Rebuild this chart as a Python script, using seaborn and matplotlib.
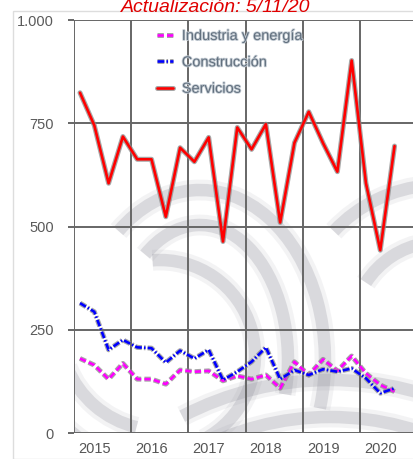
import numpy as np
import pandas as pd
import matplotlib
matplotlib.use("Agg")
import matplotlib.pyplot as plt
import matplotlib.patheffects as pe
from matplotlib.patches import Arc, Rectangle
import seaborn as sns

# Datos trimestrales 2015T1 - 2020T3
trimestre = list(range(23))
industria = [181, 165, 131, 169, 131, 131, 119, 153, 149, 151, 127, 139,
             131, 141, 109, 173, 141, 179, 151, 187, 145, 117, 101]
construccion = [315, 294, 202, 226, 208, 206, 171, 200, 181, 202, 129, 149,
                173, 208, 131, 153, 141, 155, 149, 157, 133, 97, 109]
servicios = [824, 745, 605, 718, 663, 663, 524, 691, 657, 716, 464, 740,
             687, 748, 510, 703, 778, 702, 633, 902, 605, 443, 695]
anios = ["2015", "2016", "2017", "2018", "2019", "2020"]
series = ["Industria y energía", "Construcción", "Servicios"]

df = pd.DataFrame({"t": trimestre * 3,
                   "valor": industria + construccion + servicios,
                   "serie": [series[0]] * 23 + [series[1]] * 23 + [series[2]] * 23})

sns.set_style("white")
plt.rcParams["font.family"] = ["Liberation Sans", "DejaVu Sans"]

W, H = 414, 459
fig = plt.figure(figsize=(W / 100, H / 100), dpi=100)
ax = fig.add_axes([74 / W, 1 - 433.3 / H, 1 - 74 / W, 413.3 / H])

# marco exterior
fig.add_artist(Rectangle((13 / W, 0), 1, 1 - 11 / H, transform=fig.transFigure,
                         fill=False, edgecolor="#dddddd", lw=1))

# marca de agua: arcos grises (centro px, semiejes px, angulos)
arcos = [((200, 360), 125, 170, -20, 125), ((200, 360), 88, 135, -20, 120),
         ((160, 355), 95, 95, -60, 95),
         ((160, 330), 100, 100, 200, 255), ((160, 330), 135, 135, 205, 250),
         ((440, 330), 145, 145, 95, 140), ((440, 330), 88, 88, 100, 150),
         ((330, 700), 320, 320, 60, 120), ((330, 700), 283, 283, 58, 122)]
for (cx, cy), rx, ry, t1, t2 in arcos:
    for lw, al in [(15, 0.10), (9, 0.25)]:
        a = Arc((cx / W, 1 - cy / H), 2 * rx / W, 2 * ry / H, theta1=t1, theta2=t2,
                transform=fig.transFigure, color="#8e8e9a", lw=lw, alpha=al, zorder=0.2)
        ax.add_artist(a)
        a.set_clip_path(ax.patch)

colores = {series[0]: "#ff00ff", series[1]: "#0000ff", series[2]: "#ff0000"}
estilos = {series[0]: (0, (2.4, 1.2)), series[1]: (0, (2.6, 0.8, 0.6, 0.8)), series[2]: "-"}
sombra = [pe.Stroke(linewidth=3.6, foreground="#8a8a8a", alpha=0.75), pe.Normal()]

for s in series:
    sub = df[df["serie"] == s]
    sns.lineplot(data=sub, x="t", y="valor", ax=ax, color=colores[s], lw=1.9,
                 linestyle=estilos[s], label=s, path_effects=sombra, zorder=3)

ax.set_xlim(-0.42, 23.36)
ax.set_ylim(0, 1000)
ax.set_xticks([-0.42 + 4 * k for k in range(6)])
ax.set_xticklabels([])
ax.set_xticks([1 + 4 * k for k in range(6)], minor=True)
ax.set_xticklabels(anios, minor=True)
ax.tick_params(axis="x", which="major", length=0)
ax.tick_params(axis="x", which="minor", length=0, labelsize=10.5, labelcolor="#555555", pad=6)
ax.set_yticks([0, 250, 500, 750, 1000])
ax.set_yticklabels(["0", "250", "500", "750", "1.000"])
ax.tick_params(axis="y", length=4.5, width=1.4, color="#666666", labelsize=10.5,
               labelcolor="#5a5a5a", pad=10, left=True)
ax.grid(True, color="#666666", lw=1.4)
ax.set_axisbelow(True)
for sp in ax.spines.values():
    sp.set_visible(False)
ax.set_xlabel("")
ax.set_ylabel("")
ax.patch.set_alpha(0)

leg = ax.legend(loc="upper left", bbox_to_anchor=(157 / W, 1 - 29 / H),
                bbox_transform=fig.transFigure, frameon=False, fontsize=10.5,
                handlelength=1.1, handletextpad=0.6, labelspacing=0.85, borderpad=0,
                borderaxespad=0)
for t in leg.get_texts():
    t.set_color("#62707e")
    t.set_path_effects([pe.withStroke(linewidth=1.2, foreground="#c4ccd4")])

fig.text(216 / W, 1 - 12 / H, "Actualización: 5/11/20", color="#e00000",
         style="italic", fontsize=14, ha="center", va="baseline")

fig.savefig("out.png", dpi=100)
